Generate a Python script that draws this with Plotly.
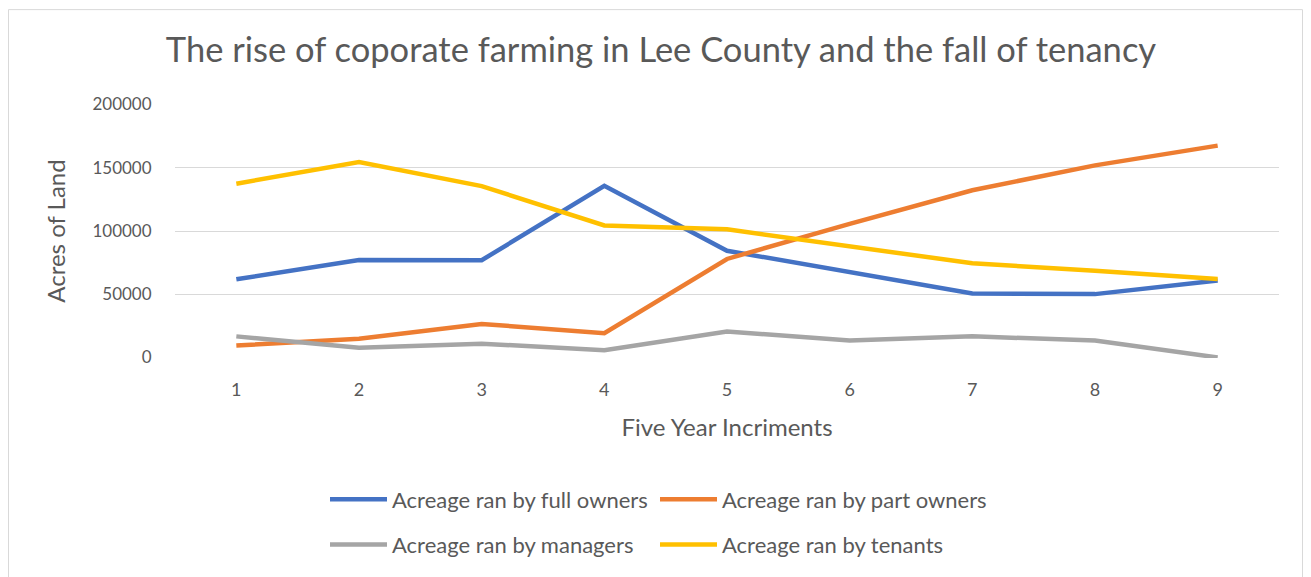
import plotly.graph_objects as go

# the page puts the figure 8px in from the top-left corner
OFF = 8
W, H = 1311 - OFF, 577 - OFF
L, T = 175 - OFF, 104 - OFF
R = W - (1279 - OFF)
B = H - (361 - OFF)

increments = [1, 2, 3, 4, 5, 6, 7, 8, 9]
full_owners = [61800, 77100, 76900, 135800, 84400, 67500, 50600, 50100, 60800]
part_owners = [9400, 14800, 26500, 19200, 77900, 105700, 132200, 151900, 167500]
managers = [16700, 7800, 10900, 5700, 20500, 13500, 16700, 13500, 0]
tenants = [137400, 154500, 135500, 104400, 101300, 88000, 74500, 68500, 62100]

# (name, values, colour, legend row, legend entry width)
series = [
    ("Acreage ran by full owners", full_owners, "#4472C4", "legend", 258),
    ("Acreage ran by part owners", part_owners, "#ED7D31", "legend", 300),
    ("Acreage ran by managers", managers, "#A5A5A5", "legend2", 258),
    ("Acreage ran by tenants", tenants, "#FFC000", "legend2", 300),
]

TXT = "#595959"
FONT = "Lato"


def px_x(x):
    """Screen x pixel -> paper fraction."""
    return (x - OFF - L) / (W - L - R)


def px_y(y):
    """Screen y pixel -> paper fraction."""
    return (H - B - (y - OFF)) / (H - T - B)


fig = go.Figure()
for name, vals, color, leg, lw in series:
    fig.add_trace(go.Scatter(
        x=[str(v) for v in increments], y=vals,
        mode="lines", name=name, legend=leg, legendwidth=lw,
        line=dict(color=color, width=4.5),
    ))

legend_style = dict(
    orientation="h", xanchor="left", yanchor="middle",
    x=px_x(325), itemwidth=57,
    font=dict(size=22, color=TXT, family=FONT),
    bgcolor="rgba(0,0,0,0)",
)

fig.update_layout(
    width=W, height=H,
    margin=dict(l=L, r=R, t=T, b=B),
    paper_bgcolor="white", plot_bgcolor="white",
    font=dict(family=FONT, color=TXT),
    title=dict(
        text="The rise of coporate farming in Lee County and the fall of tenancy",
        x=(661 - OFF) / W, xanchor="center",
        y=1 - (50 - OFF) / H, yanchor="middle",
        font=dict(size=34.5, color=TXT, family=FONT),
    ),
    legend=dict(legend_style, y=px_y(504)),
    legend2=dict(legend_style, y=px_y(550)),
    shapes=[dict(
        type="rect", xref="paper", yref="paper", layer="below",
        x0=px_x(OFF + 0.5), x1=px_x(1302.5), y0=px_y(600), y1=px_y(OFF + 0.5),
        line=dict(color="#D9D9D9", width=1),
    )],
)

fig.update_xaxes(
    type="category", range=[-0.5, 8.5],
    showgrid=False, zeroline=False, showline=False,
    ticks="outside", ticklen=15, tickcolor="rgba(0,0,0,0)",
    tickfont=dict(size=18, color=TXT, family=FONT),
    title=dict(text="Five Year Incriments", standoff=20,
               font=dict(size=24, color=TXT, family=FONT)),
)
fig.update_yaxes(
    range=[-400, 200400], tickvals=[0, 50000, 100000, 150000, 200000],
    tickformat="d",
    showgrid=True, gridcolor="#D9D9D9", gridwidth=1.3,
    zeroline=False, showline=False,
    ticks="outside", ticklen=19, tickcolor="rgba(0,0,0,0)",
    tickfont=dict(size=17, color=TXT, family=FONT),
    title=dict(text="Acres of Land", standoff=20,
               font=dict(size=24, color=TXT, family=FONT)),
)

fig.write_html("out.html")
